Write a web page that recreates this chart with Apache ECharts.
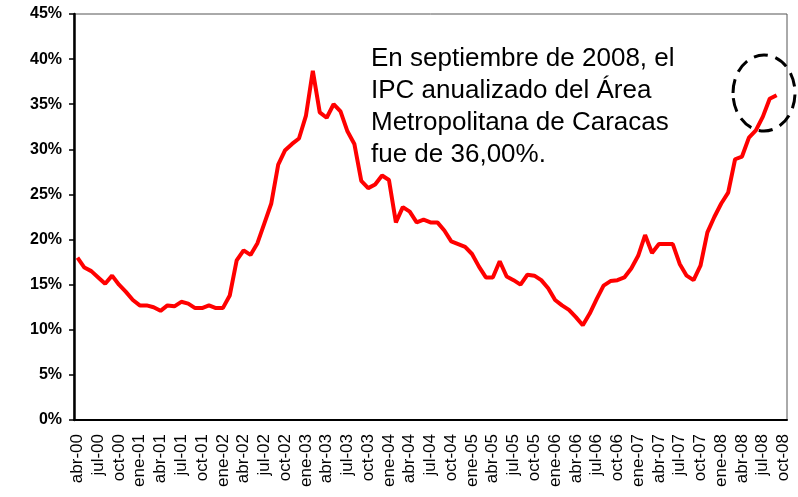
<!DOCTYPE html>
<html>
<head>
<meta charset="utf-8">
<script src="https://cdn.jsdelivr.net/npm/echarts@6/dist/echarts.min.js"></script>
<style>
  html, body { margin: 0; padding: 0; background: #fff; }
  #chart { width: 798px; height: 497px; }
</style>
</head>
<body>
<div id="chart"></div>
<script>
// meses en español, el eje va de abr-00 a oct-08
const mesesNombres = ['ene', 'feb', 'mar', 'abr', 'may', 'jun', 'jul', 'ago', 'sep', 'oct', 'nov', 'dic']
const anios = ['00', '01', '02', '03', '04', '05', '06', '07', '08']

// IPC anualizado (%), mensual desde abr-00 hasta sep-08
const ipc2000 = [18.0, 16.9, 16.5, 15.8, 15.1, 16.0, 15.0, 14.2, 13.3]
const ipc2001 = [12.7, 12.7, 12.5, 12.1, 12.7, 12.6, 13.1, 12.9, 12.4, 12.4, 12.7, 12.4]
const ipc2002 = [12.4, 13.8, 17.7, 18.8, 18.3, 19.6, 21.8, 24.0, 28.3, 29.9, 30.6, 31.2]
const ipc2003 = [33.7, 38.7, 34.1, 33.5, 35.0, 34.2, 32.0, 30.6, 26.5, 25.7, 26.1, 27.1]
const ipc2004 = [26.6, 21.9, 23.6, 23.1, 21.9, 22.2, 21.9, 21.9, 21.0, 19.8, 19.5, 19.2]
const ipc2005 = [18.4, 17.0, 15.8, 15.8, 17.6, 15.9, 15.5, 15.0, 16.1, 16.0, 15.5, 14.6]
const ipc2006 = [13.3, 12.7, 12.2, 11.4, 10.5, 11.8, 13.4, 14.9, 15.4, 15.5, 15.8, 16.8]
const ipc2007 = [18.2, 20.5, 18.5, 19.5, 19.5, 19.5, 17.3, 16.0, 15.5, 17.1, 20.8, 22.5]
const ipc2008 = [24.0, 25.2, 28.9, 29.2, 31.3, 32.1, 33.6, 35.6, 36.0]

const ipc = [].concat(ipc2000, ipc2001, ipc2002, ipc2003, ipc2004, ipc2005, ipc2006, ipc2007, ipc2008)

// categorías: 103 meses (oct-08 queda sin dato)
const categorias = []
anios.forEach((a, k) => {
    mesesNombres.forEach((m, j) => {
        if (k === 0 && j < 3) return
        if (k === anios.length - 1 && j > 9) return
        categorias.push(m + '-' + a)
    })
})

const nota = 'En septiembre de 2008, el\nIPC anualizado del Área\nMetropolitana de Caracas\nfue de 36,00%.'

const myChart = echarts.init(document.getElementById('chart'))

const option = {
    backgroundColor: '#fff',
    animation: false,
    grid: {
        left: 74,
        right: 11,
        top: 14,
        bottom: 77,
        show: true,
        borderColor: '#555',
        borderWidth: 1,
        backgroundColor: 'transparent'
    },
    xAxis: {
        type: 'category',
        data: categorias,
        boundaryGap: true,
        axisLine: { lineStyle: { color: '#000', width: 2 } },
        axisTick: { interval: 2, length: 6, lineStyle: { color: '#000', width: 1.5 } },
        axisLabel: {
            interval: 2,
            rotate: 90,
            margin: 14,
            color: '#000',
            fontSize: 17,
            fontFamily: '"Liberation Sans", Arial, sans-serif'
        },
        splitLine: { show: false }
    },
    yAxis: {
        type: 'value',
        min: 0,
        max: 45,
        interval: 5,
        axisLine: { show: true, lineStyle: { color: '#000', width: 2.5 } },
        axisTick: { show: true, length: 5, lineStyle: { color: '#000', width: 1.5 } },
        axisLabel: {
            formatter: '{value}%',
            margin: 12,
            color: '#000',
            fontSize: 16,
            fontWeight: 'bold',
            fontFamily: '"Liberation Sans", Arial, sans-serif'
        },
        splitLine: { show: false }
    },
    series: [{
        type: 'line',
        data: ipc,
        showSymbol: false,
        symbol: 'none',
        lineStyle: { color: '#ff0000', width: 4 },
        z: 3
    }],
    graphic: [
        {
            type: 'text',
            left: 371,
            top: 43,
            style: {
                text: nota,
                fill: '#000',
                font: '26px "Liberation Sans", Arial, sans-serif',
                lineHeight: 32
            }
        },
        {
            type: 'ellipse',
            shape: { cx: 764, cy: 93, rx: 31, ry: 38 },
            style: {
                fill: 'none',
                stroke: '#000',
                lineWidth: 3,
                lineDash: [14, 8]
            },
            z: 10
        }
    ]
}

myChart.setOption(option)
</script>
</body>
</html>
